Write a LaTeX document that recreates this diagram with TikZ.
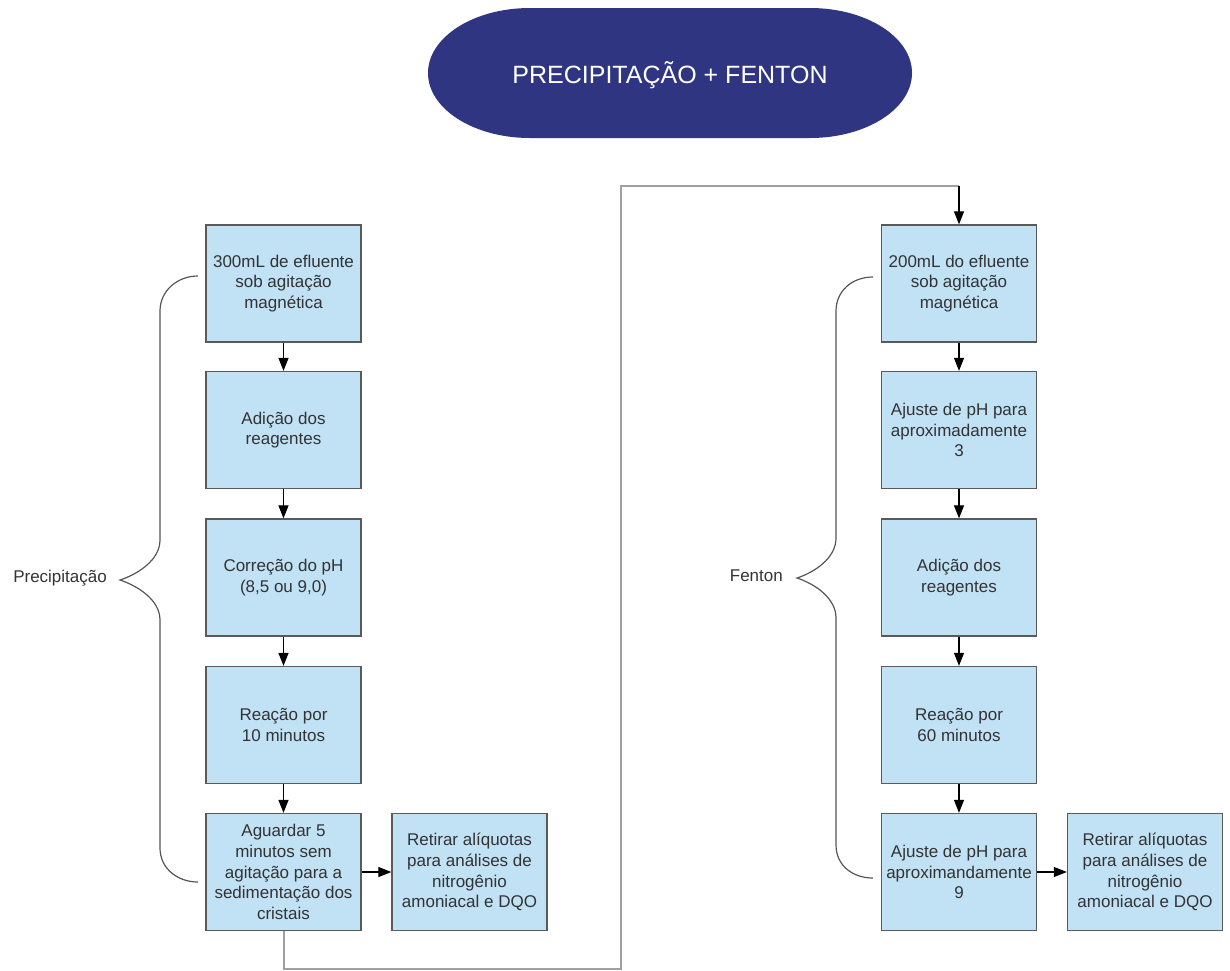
\documentclass[tikz,border=0pt]{standalone}
\usepackage{fontspec}
\setmainfont{Liberation Sans}
\usetikzlibrary{arrows.meta}
\definecolor{boxfill}{HTML}{C1E1F5}
\definecolor{boxline}{HTML}{5A5A5A}
\definecolor{navyfill}{HTML}{2F3581}
\definecolor{txt}{HTML}{333333}
\definecolor{conn}{HTML}{A0A0A0}
\definecolor{bracecol}{HTML}{555555}
\begin{document}
\begin{tikzpicture}[x=1pt,y=-1pt,
  proc/.style={draw=boxline, line width=1.3pt, fill=boxfill, minimum width=155pt,
    minimum height=117pt, align=center, text=txt, inner sep=0pt,
    font=\fontsize{17}{20.7}\selectfont},
  flow/.style={-{Triangle[length=13pt,width=10pt]}, line width=1.2pt, black},
  link/.style={draw=conn, line width=2pt},
  bracepath/.style={draw=bracecol, line width=1.2pt},
  lbl/.style={text=txt, inner sep=0pt, font=\fontsize{17}{20.7}\selectfont}]
\useasboundingbox (0,0) rectangle (1230,970);

% title shape
\fill[navyfill] (530,8) -- (810,8)
  arc[start angle=-90, end angle=90, x radius=102, y radius=65]
  -- (530,138)
  arc[start angle=90, end angle=270, x radius=102, y radius=65] -- cycle;
\node[text=white, font=\fontsize{25}{30}\selectfont] (title) at (670,75) {PRECIPITAÇÃO + FENTON};

% left column
\node[proc] (p1) at (283.5,283.5) {300mL de efluente\\sob agitação\\magnética};
\node[proc] (p2) at (283.5,430) {Adição dos\\reagentes};
\node[proc] (p3) at (283.5,577.5) {Correção do pH\\(8,5 ou 9,0)};
\node[proc] (p4) at (283.5,725) {Reação por\\10 minutos};
\node[proc] (p5) at (283.5,872) {Aguardar 5\\minutos sem\\agitação para a\\sedimentação dos\\cristais};
\node[proc] (p6) at (469.5,872) {Retirar alíquotas\\para análises de\\nitrogênio\\amoniacal e DQO};

% right column
\node[proc] (f1) at (959,283.5) {200mL do efluente\\sob agitação\\magnética};
\node[proc] (f2) at (959,430) {Ajuste de pH para\\aproximadamente\\3};
\node[proc] (f3) at (959,577.5) {Adição dos\\reagentes};
\node[proc] (f4) at (959,725) {Reação por\\60 minutos};
\node[proc] (f5) at (959,872) {Ajuste de pH para\\aproximandamente\\9};
\node[proc] (f6) at (1145,872) {Retirar alíquotas\\para análises de\\nitrogênio\\amoniacal e DQO};

% arrows
\draw[flow] (p1) -- (p2);
\draw[flow] (p2) -- (p3);
\draw[flow] (p3) -- (p4);
\draw[flow] (p4) -- (p5);
\draw[flow] (p5) -- (p6);
\draw[flow] (f1) -- (f2);
\draw[flow] (f2) -- (f3);
\draw[flow] (f3) -- (f4);
\draw[flow] (f4) -- (f5);
\draw[flow] (f5) -- (f6);

% connector between the two columns
\coordinate (c1) at (620.5,969);
\coordinate (c2) at (620.5,186);
\coordinate (c3) at (f1.north |- c2);
\draw[link] (p5.south) |- (c1) -- (c2) -- (c3);
\draw[flow] (c3) -- (f1.north);

% braces
\draw[bracepath] (198,276) .. controls (177,276) and (160,291) .. (160,311)
  -- (160,540) .. controls (160,560) and (138,574) .. (120,580)
  .. controls (138,586) and (160,600) .. (160,620)
  -- (160,848) .. controls (160,868) and (177,882) .. (198,882);
\draw[bracepath] (873,277) .. controls (852,277) and (836,291) .. (836,311)
  -- (836,538) .. controls (836,558) and (815,572) .. (797,578)
  .. controls (815,584) and (836,598) .. (836,618)
  -- (836,845) .. controls (836,865) and (852,878) .. (873,878);

\node[lbl, anchor=base east] (lprec) at (107,582) {Precipitação};
\node[lbl, anchor=base east] (lfent) at (783,581) {Fenton};
\end{tikzpicture}
\end{document}
